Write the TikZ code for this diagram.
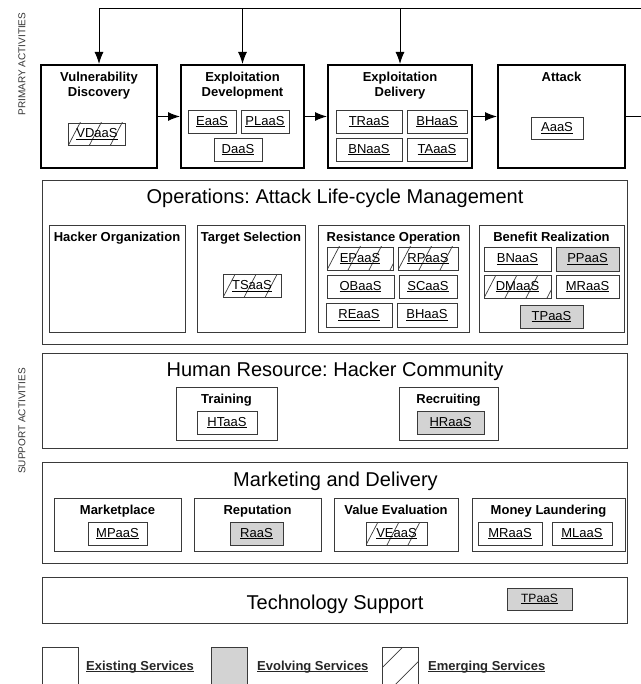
\documentclass[tikz,border=0pt]{standalone}
\usepackage{fontspec}
\setmainfont{Liberation Sans}
\usepackage{xcolor}
\usepackage{tikz}
\definecolor{evolvegray}{HTML}{D3D3D3}
\definecolor{framegray}{HTML}{3A3A3A}
\usetikzlibrary{positioning, arrows.meta}
\newcommand{\svc}[1]{\underline{\raisebox{0pt}[\height][0pt]{#1}}}
\frenchspacing

\tikzset{
	>={Latex[length=12pt,width=9pt]},
	primary/.style={draw, line width=2pt, minimum width=#1, minimum height=103, inner sep=0pt},
	section/.style={draw=framegray, line width=1pt, minimum width=585, inner sep=0pt},
	group/.style={draw=framegray, line width=0.9pt, inner sep=0pt},
	service/.style={draw=framegray, line width=0.9pt, minimum height=23, inner sep=0pt, font=\fontsize{13}{15}\selectfont},
	evolving/.style={service, fill=evolvegray},
	emerging/.style={service, path picture={
		\foreach \k in {0,...,4}
			\draw[framegray, line width=0.7pt] ([xshift=\k*21pt]path picture bounding box.south west) -- ++(13pt,25pt);
	}},
	legendhatch/.style={group, path picture={
		\foreach \k in {-2,...,2}
			\draw[framegray, line width=0.8pt] ([xshift=\k*30pt]path picture bounding box.south west) -- ++(60pt,60pt);
	}},
	ptitle/.style={font=\bfseries\fontsize{13}{15}\selectfont, align=center, inner sep=0pt},
	stitle/.style={font=\fontsize{20}{24}\selectfont, inner sep=0pt},
	side/.style={rotate=90, font=\fontsize{10}{12}\selectfont, text=black!80},
}

\begin{document}
\begin{tikzpicture}[x=1pt, y=-1pt]
	\useasboundingbox (0,0) rectangle (640,684);
	
	\node[side] (prim) at (22,64) {PRIMARY ACTIVITIES};
	\node[side] (supp) at (22,421) {SUPPORT ACTIVITIES};
	
	% primary activities
	\node[primary=116] (vd) at (99,116.5) {};
	\node[primary=123] (ed) at (242.5,116.5) {};
	\node[primary=144] (edl) at (400,116.5) {};
	\node[primary=127] (att) at (561.5,116.5) {};
	
	\node[ptitle, below=8pt of vd.north] (vdt) {Vulnerability\\Discovery};
	\node[ptitle, below=8pt of ed.north] (edt) {Exploitation\\Development};
	\node[ptitle, below=8pt of edl.north] (edlt) {Exploitation\\Delivery};
	\node[ptitle, below=8pt of att.north] (attt) {Attack};
	
	\node[emerging, minimum width=57, minimum height=22] (vdaas) at (97,134) {\svc{VDaaS}};
	\node[service, minimum width=48] (eaas) at (212,121.5) {\svc{EaaS}};
	\node[service, minimum width=48] (plaas) at (265,121.5) {\svc{PLaaS}};
	\node[service, minimum width=48] (daas) at (238,149.5) {\svc{DaaS}};
	\node[service, minimum width=66] (traas) at (369,121.5) {\svc{TRaaS}};
	\node[service, minimum width=60] (bhaas) at (437,121.5) {\svc{BHaaS}};
	\node[service, minimum width=66] (bnaas) at (369,149.5) {\svc{BNaaS}};
	\node[service, minimum width=60] (taaas) at (437,149.5) {\svc{TAaaS}};
	\node[service, minimum width=52, minimum height=22] (aaas) at (557,128) {\svc{AaaS}};
	
	\draw[->, line width=1.2pt] (vd) -- (ed);
	\draw[->, line width=1.2pt] (ed) -- (edl);
	\draw[->, line width=1.2pt] (edl) -- (att);
	
	% feedback loop
	\coordinate (backr) at (650,9);
	\coordinate (backl) at (99,9);
	\draw[line width=1pt] (att.east) -- (att.east -| backr) -- (backr) -- (backl);
	\draw[->, line width=1pt] (backl) -- (vd.north);
	\draw[->, line width=1pt] (ed.north |- backl) -- (ed.north);
	\draw[->, line width=1pt] (edl.north |- backl) -- (edl.north);
	
	% operations
	\node[section, minimum height=163] (ops) at (334.5,262.5) {};
	\node[stitle, anchor=base] (opst) at (335,204) {Operations: Attack Life-cycle Management};
	
	\node[group, minimum width=136, minimum height=107] (horg) at (117,278.5) {};
	\node[group, minimum width=108, minimum height=107] (tsel) at (251,278.5) {};
	\node[group, minimum width=151, minimum height=107] (resop) at (393.5,278.5) {};
	\node[group, minimum width=145, minimum height=107] (benr) at (551.5,278.5) {};
	
	\node[ptitle, below=7pt of horg.north] (horgt) {Hacker Organization};
	\node[ptitle, below=7pt of tsel.north] (tselt) {Target Selection};
	\node[ptitle, below=7pt of resop.north] (resopt) {Resistance Operation};
	\node[ptitle, below=7pt of benr.north] (benrt) {Benefit Realization};
	
	\node[emerging, minimum width=58] (tsaas) at (252,286) {\svc{TSaaS}};
	\node[emerging, minimum width=66] (epaas) at (360,258.5) {\svc{EPaaS}};
	\node[emerging, minimum width=60] (rpaas) at (428,258.5) {\svc{RPaaS}};
	\node[service, minimum width=67] (obaas) at (360.5,286.5) {\svc{OBaaS}};
	\node[service, minimum width=58] (scaas) at (428,286.5) {\svc{SCaaS}};
	\node[service, minimum width=66, minimum height=24] (reaas) at (359,315) {\svc{REaaS}};
	\node[service, minimum width=60, minimum height=24] (bhaasb) at (427,315) {\svc{BHaaS}};
	
	\node[service, minimum width=67, minimum height=24] (bnaasb) at (517.5,259) {\svc{BNaaS}};
	\node[evolving, minimum width=63, minimum height=24] (ppaas) at (587.5,259) {\svc{PPaaS}};
	\node[emerging, minimum width=67] (dmaas) at (517.5,286.5) {\svc{DMaaS}};
	\node[service, minimum width=63] (mraas) at (587.5,286.5) {\svc{MRaaS}};
	\node[evolving, minimum width=63] (tpaas) at (551.5,316.5) {\svc{TPaaS}};
	
	% human resource
	\node[section, minimum height=95] (hr) at (334.5,400.5) {};
	\node[stitle, anchor=base] (hrt) at (335,376) {Human Resource: Hacker Community};
	
	\node[group, minimum width=101, minimum height=53] (train) at (226.5,413.5) {};
	\node[group, minimum width=99, minimum height=53] (recr) at (448.5,413.5) {};
	\node[ptitle, below=7pt of train.north] (traint) {Training};
	\node[ptitle, below=7pt of recr.north] (recrt) {Recruiting};
	
	\node[service, minimum width=60] (htaas) at (227,422.5) {\svc{HTaaS}};
	\node[evolving, minimum width=67] (hraas) at (450.5,422.5) {\svc{HRaaS}};
	
	% marketing and delivery
	\node[section, minimum height=101] (mkt) at (334.5,512.5) {};
	\node[stitle, anchor=base] (mktt) at (335.5,486) {Marketing and Delivery};
	
	\node[group, minimum width=127, minimum height=53] (mplace) at (117.5,524.5) {};
	\node[group, minimum width=127, minimum height=53] (reput) at (257.5,524.5) {};
	\node[group, minimum width=124, minimum height=53] (valev) at (396,524.5) {};
	\node[group, minimum width=153, minimum height=53] (mlaund) at (548.5,524.5) {};
	
	\node[ptitle, below=7pt of mplace.north] (mplacet) {Marketplace};
	\node[ptitle, below=7pt of reput.north] (reputt) {Reputation};
	\node[ptitle, below=7pt of valev.north] (valevt) {Value Evaluation};
	\node[ptitle, below=7pt of mlaund.north] (mlaundt) {Money Laundering};
	
	\node[service, minimum width=59] (mpaas) at (117.5,533.5) {\svc{MPaaS}};
	\node[evolving, minimum width=53] (raas) at (256.5,533.5) {\svc{RaaS}};
	\node[emerging, minimum width=61] (veaas) at (396.5,533.5) {\svc{VEaaS}};
	\node[service, minimum width=64] (mraasb) at (510,533.5) {\svc{MRaaS}};
	\node[service, minimum width=60] (mlaas) at (582,533.5) {\svc{MLaaS}};
	
	% technology support
	\node[section, minimum height=46] (tech) at (334.5,600) {};
	\node[stitle, anchor=base] (techt) at (335,609) {Technology Support};
	\node[evolving, minimum width=65, minimum height=22, font=\fontsize{12}{14}\selectfont] (tpaasb) at (539.5,599) {\svc{TPaaS}};
	
	% legend
	\node[group, minimum width=36, minimum height=50, anchor=north west] (legex) at (42,647) {};
	\node[group, fill=evolvegray, minimum width=36, minimum height=50, anchor=north west] (legev) at (211,647) {};
	\node[legendhatch, minimum width=36, minimum height=50, anchor=north west] (legem) at (382,647) {};
	\node[ptitle, text=black!85, anchor=base west] (legext) at (86,670) {\svc{Existing Services}};
	\node[ptitle, text=black!85, anchor=base west] (legevt) at (257,670) {\svc{Evolving Services}};
	\node[ptitle, text=black!85, anchor=base west] (legemt) at (428,670) {\svc{Emerging Services}};
\end{tikzpicture}
\end{document}
